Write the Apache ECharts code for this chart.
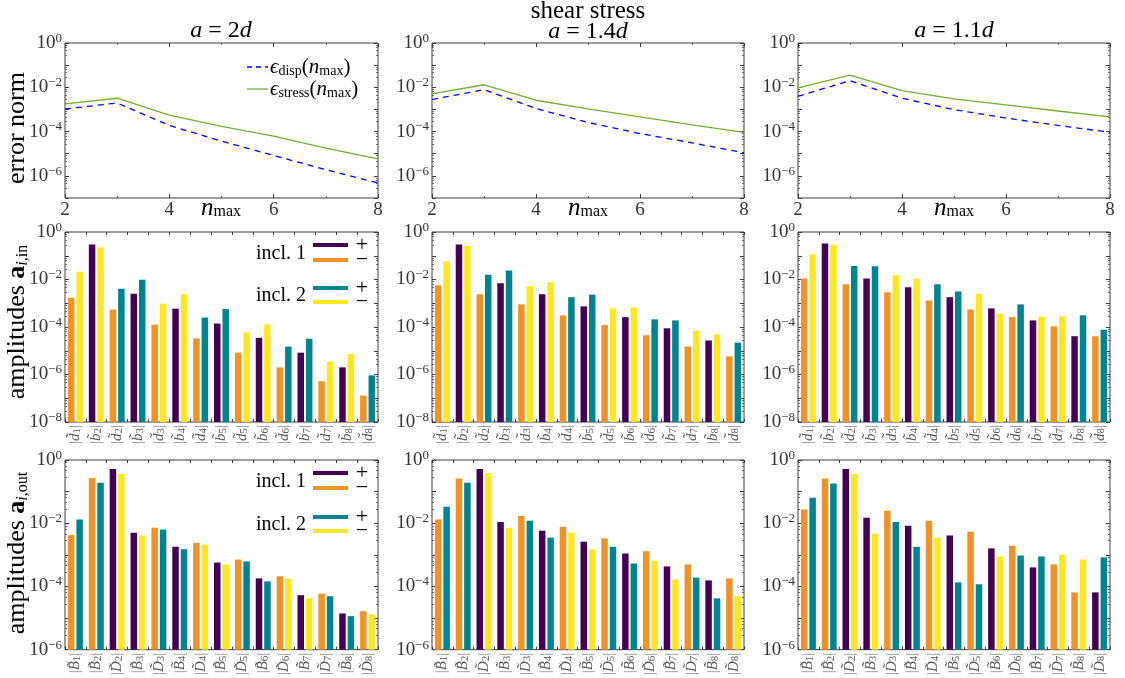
<!DOCTYPE html>
<html><head><meta charset="utf-8">
<script src="https://cdn.jsdelivr.net/npm/echarts@6/dist/echarts.min.js"></script>
<style>html,body{margin:0;padding:0;background:#fff}#c{width:1125px;height:678px}</style>
</head><body><div id="c"></div>
<script>
// ---------------- data ----------------
const nmax = [2, 3, 4, 5, 6, 7, 8];
const dispA20   = [1.05e-3, 1.95e-3, 1.9e-4, 3.7e-5, 8.3e-6, 1.9e-6, 4.8e-7];
const stressA20 = [1.8e-3, 3.2e-3, 5.5e-4, 1.7e-4, 6.2e-5, 1.8e-5, 5.9e-6];
const dispA14   = [2.8e-3, 7.8e-3, 1.1e-3, 2.6e-4, 8.1e-5, 3.1e-5, 1.1e-5];
const stressA14 = [5.0e-3, 1.3e-2, 2.6e-3, 1.05e-3, 4.6e-4, 2.0e-4, 9.3e-5];
const dispA11   = [3.9e-3, 2.0e-2, 3.2e-3, 9.8e-4, 4.1e-4, 1.9e-4, 9.3e-5];
const stressA11 = [9.3e-3, 3.5e-2, 7.0e-3, 3.0e-3, 1.6e-3, 8.5e-4, 4.6e-4];

const catsIn  = ['d1','b2','d2','b3','d3','b4','d4','b5','d5','b6','d6','b7','d7','b8','d8'];
const catsOut = ['B1','B2','D2','B3','D3','B4','D4','B5','D5','B6','D6','B7','D7','B8','D8'];

// kinds: '1+' incl.1 +, '1-' incl.1 −, '2+' incl.2 +, '2-' incl.2 −
const inLeftKind   = ['1-','1+','1-','1+','1-','1+','1-','1+','1-','1+','1-','1+','1-','1+','1-'];
const inRightKind  = ['2-','2-','2+','2+','2-','2-','2+','2+','2-','2-','2+','2+','2-','2-','2+'];
const inRightKindA11 = ['2-','2-','2+','2+','2-','2-','2+','2+','2-','2-','2+','2-','2-','2+','2+'];

const inLeftA20  = [1.7e-3, 0.30, 5.4e-4, 2.5e-3, 1.26e-4, 5.9e-4, 3.3e-5, 1.4e-4, 8.3e-6, 3.5e-5, 2.0e-6, 8.3e-6, 5.2e-7, 2.0e-6, 1.3e-7];
const inRightA20 = [2.1e-2, 0.22, 4.1e-3, 9.8e-3, 9.6e-4, 2.4e-3, 2.5e-4, 5.7e-4, 6.0e-5, 1.3e-4, 1.5e-5, 3.2e-5, 3.5e-6, 7.3e-6, 9.2e-7];
const inLeftA14  = [5.7e-3, 0.30, 2.4e-3, 6.9e-3, 9.0e-4, 2.4e-3, 3.1e-4, 7.4e-4, 1.2e-4, 2.6e-4, 4.5e-5, 8.8e-5, 1.5e-5, 2.7e-5, 5.8e-6];
const inRightA14 = [5.8e-2, 0.26, 1.6e-2, 2.4e-2, 5.3e-3, 7.6e-3, 1.8e-3, 2.3e-3, 6.1e-4, 6.7e-4, 2.1e-4, 1.9e-4, 7.0e-5, 4.9e-5, 2.2e-5];
const inLeftA11  = [1.1e-2, 0.33, 6.3e-3, 1.1e-2, 2.9e-3, 4.7e-3, 1.3e-3, 1.8e-3, 5.5e-4, 6.1e-4, 2.6e-4, 1.9e-4, 1.07e-4, 4.1e-5, 4.1e-5];
const inRightA11 = [0.115, 0.29, 3.7e-2, 3.6e-2, 1.5e-2, 1.1e-2, 6.3e-3, 3.1e-3, 2.5e-3, 3.6e-4, 9.0e-4, 2.7e-4, 2.8e-4, 3.1e-4, 7.7e-5];

const outLeftKind     = ['1-','1-','1+','1+','1-','1+','1-','1+','1-','1+','1-','1+','1-','1+','1-'];
const outRightKind    = ['2+','2+','2-','2-','2+','2+','2-','2-','2+','2+','2-','2-','2+','2+','2-'];
const outLeftKindA11  = ['1-','1-','1+','1+','1-','1+','1-','1+','1-','1+','1-','1+','1-','1-','1+'];
const outRightKindA11 = ['2+','2+','2-','2-','2+','2+','2-','2+','2+','2-','2+','2+','2-','2-','2+'];

const outLeftA20  = [4.2e-3, 0.27, 0.52, 5.0e-3, 7.2e-3, 1.8e-3, 2.4e-3, 5.7e-4, 7.1e-4, 1.8e-4, 2.1e-4, 5.3e-5, 5.9e-5, 1.4e-5, 1.65e-5];
const outRightA20 = [1.3e-2, 0.19, 0.36, 4.1e-3, 6.3e-3, 1.5e-3, 2.1e-3, 5.0e-4, 6.2e-4, 1.45e-4, 1.8e-4, 4.2e-5, 4.9e-5, 1.15e-5, 1.3e-5];
const outLeftA14  = [1.3e-2, 0.26, 0.52, 1.1e-2, 1.7e-2, 5.8e-3, 7.7e-3, 2.6e-3, 3.3e-3, 1.1e-3, 1.3e-3, 4.3e-4, 5.0e-4, 1.55e-4, 1.8e-4];
const outRightA14 = [3.3e-2, 0.19, 0.39, 7.2e-3, 1.2e-2, 3.5e-3, 5.0e-3, 1.5e-3, 1.8e-3, 5.3e-4, 6.6e-4, 1.66e-4, 1.9e-4, 4.2e-5, 4.9e-5];
const outLeftA11  = [2.7e-2, 0.26, 0.52, 1.5e-2, 2.5e-2, 8.3e-3, 1.2e-2, 4.1e-3, 5.4e-3, 1.6e-3, 1.95e-3, 4.0e-4, 5.0e-4, 6.5e-5, 6.5e-5];
const outRightA11 = [6.4e-2, 0.18, 0.36, 4.7e-3, 1.1e-2, 1.8e-3, 3.5e-3, 1.35e-4, 1.17e-4, 8.9e-4, 9.5e-4, 8.9e-4, 1.02e-3, 7.1e-4, 8.3e-4];

const xTicksTop = [2, 4, 6, 8];

// ---------------- styles / layout ----------------
const FONT = 'Liberation Serif';
const KC = {'1+':'#440154','1-':'#ef9227','2+':'#00848f','2-':'#fde725'};
const colBox = [[65,313],[432,312],[798,312]];
const rowBox = [[43,155],[232,190],[460,191]];
const AX = '#3c3c3c';

const grids = [], xAxes = [], yAxes = [], series = [];

const powRich = {
  b: {fontFamily: FONT, fontSize: 19, color: '#333', lineHeight: 22},
  p: {fontFamily: FONT, fontSize: 13, color: '#333', lineHeight: 12, verticalAlign: 'top'}
};
function fmtPow(v){
  const e = Math.round(Math.log10(v));
  if (e % 2 !== 0) return '';
  return '{b|10}{p|' + (e < 0 ? '\u2212' : '') + Math.abs(e) + '}';
}
const catRich = {
  v: {fontFamily: FONT, fontSize: 15, fontStyle: 'italic', color: '#555'},
  s: {fontFamily: FONT, fontSize: 11, color: '#555', verticalAlign: 'bottom', lineHeight: 11}
};
function catFmt(s){ return '|{v|' + s[0] + '\u0303}{s|' + s.slice(1) + '}|'; }

function addGrid(r, c){
  const g = grids.length;
  grids.push({left: colBox[c][0], top: rowBox[r][0], width: colBox[c][1], height: rowBox[r][1],
    show: true, borderColor: AX, borderWidth: 1, containLabel: false});
  return g;
}
function logY(g, min, pos, showLabel){
  return {type: 'log', logBase: 10, gridIndex: g, position: pos, min: min, max: 1, interval: 1,
    startValue: min,
    axisLine: {show: false}, splitLine: {show: false},
    axisTick: {show: true, inside: true, length: 4, lineStyle: {color: AX}},
    minorTick: {show: true, splitNumber: 5, length: 2, lineStyle: {color: '#666'}},
    axisLabel: {show: showLabel, formatter: fmtPow, rich: powRich, margin: 3, color: '#333'}};
}

// top row: line panels
const lineSets = [[dispA20, stressA20], [dispA14, stressA14], [dispA11, stressA11]];
lineSets.forEach((set, c) => {
  const g = addGrid(0, c);
  const xi = xAxes.length;
  xAxes.push({type: 'value', gridIndex: g, position: 'bottom', min: 2, max: 8, interval: 2,
    axisLine: {show: false}, splitLine: {show: false},
    axisTick: {show: true, inside: true, length: 4, lineStyle: {color: AX}},
    minorTick: {show: true, splitNumber: 2, length: 2, lineStyle: {color: '#666'}},
    axisLabel: {fontFamily: FONT, fontSize: 19, color: '#333', margin: 3,
      formatter: v => xTicksTop.includes(v) ? String(v) : ''}});
  xAxes.push({type: 'value', gridIndex: g, position: 'top', min: 2, max: 8, interval: 2,
    axisLine: {show: false}, splitLine: {show: false},
    axisTick: {show: true, inside: true, length: 4, lineStyle: {color: AX}},
    minorTick: {show: true, splitNumber: 2, length: 2, lineStyle: {color: '#666'}},
    axisLabel: {show: false}});
  const yi = yAxes.length;
  yAxes.push(logY(g, 1e-7, 'left', true));
  yAxes.push(logY(g, 1e-7, 'right', false));
  series.push({type: 'line', xAxisIndex: xi, yAxisIndex: yi, symbol: 'none', silent: true,
    data: nmax.map((x, i) => [x, set[0][i]]),
    lineStyle: {color: '#0000ff', width: 1.3, type: [6, 5]}, z: 3});
  series.push({type: 'line', xAxisIndex: xi, yAxisIndex: yi, symbol: 'none', silent: true,
    data: nmax.map((x, i) => [x, set[1][i]]),
    lineStyle: {color: '#77ac30', width: 1.3}, z: 2});
});

// bar panels
function barPanel(r, c, cats, min, lv, lk, rv, rk){
  const g = addGrid(r, c);
  const xi = xAxes.length;
  xAxes.push({type: 'category', gridIndex: g, data: cats, position: 'bottom',
    axisLine: {show: false}, splitLine: {show: false},
    axisTick: {show: true, inside: true, length: 3, lineStyle: {color: AX}},
    axisLabel: {interval: 0, rotate: 90, formatter: catFmt, rich: catRich, margin: 3,
      fontFamily: FONT, fontSize: 15, color: '#888'}});
  xAxes.push({type: 'category', gridIndex: g, data: cats, position: 'top',
    axisLine: {show: false}, splitLine: {show: false},
    axisTick: {show: true, inside: true, length: 3, lineStyle: {color: AX}},
    axisLabel: {show: false}});
  const yi = yAxes.length;
  yAxes.push(logY(g, min, 'left', true));
  yAxes.push(logY(g, min, 'right', false));
  series.push({type: 'bar', xAxisIndex: xi, yAxisIndex: yi, silent: true, barWidth: 6.5, barGap: '30%',
    data: lv.map((v, i) => ({value: v, itemStyle: {color: KC[lk[i]]}}))});
  series.push({type: 'bar', xAxisIndex: xi, yAxisIndex: yi, silent: true, barWidth: 6.5, barGap: '30%',
    data: rv.map((v, i) => ({value: v, itemStyle: {color: KC[rk[i]]}}))});
}
barPanel(1, 0, catsIn, 1e-8, inLeftA20, inLeftKind, inRightA20, inRightKind);
barPanel(1, 1, catsIn, 1e-8, inLeftA14, inLeftKind, inRightA14, inRightKind);
barPanel(1, 2, catsIn, 1e-8, inLeftA11, inLeftKind, inRightA11, inRightKindA11);
barPanel(2, 0, catsOut, 1e-6, outLeftA20, outLeftKind, outRightA20, outRightKind);
barPanel(2, 1, catsOut, 1e-6, outLeftA14, outLeftKind, outRightA14, outRightKind);
barPanel(2, 2, catsOut, 1e-6, outLeftA11, outLeftKindA11, outRightA11, outRightKindA11);

// ---------------- text / legends (graphic) ----------------
const G = [];
function txt(x, y, text, size, rich, extra){
  G.push(Object.assign({type: 'text', x: x, y: y, silent: true,
    style: Object.assign({text: text, fontFamily: FONT, fontSize: size, fill: '#000',
      align: 'center', verticalAlign: 'middle', rich: rich || {}}, extra && extra.style || {})},
    extra && extra.el || {}));
}
const itRich = s => ({i: {fontFamily: FONT, fontSize: s, fontStyle: 'italic', fill: '#000'},
                      n: {fontFamily: FONT, fontSize: s, fill: '#000'}});
txt(221, 31, '{i|a}{n| = 2}{i|d}', 24, itRich(24));
txt(588, 11, 'shear stress', 25);
txt(588, 32, '{i|a}{n| = 1.4}{i|d}', 24, itRich(24));
txt(954, 31, '{i|a}{n| = 1.1}{i|d}', 24, itRich(24));

const nRich = {
  i: {fontFamily: FONT, fontSize: 25, fontStyle: 'italic', fill: '#000', lineHeight: 24},
  s: {fontFamily: FONT, fontSize: 16, fill: '#000', verticalAlign: 'bottom', lineHeight: 15}
};
[221, 588, 954].forEach(cx => txt(cx, 208, '{i|n}{s|max}', 25, nRich));

const subRich = {
  n: {fontFamily: FONT, fontSize: 26, fill: '#000', lineHeight: 28},
  b: {fontFamily: FONT, fontSize: 26, fontWeight: 'bold', fill: '#000', lineHeight: 28},
  si: {fontFamily: FONT, fontSize: 16, fontStyle: 'italic', fill: '#000', verticalAlign: 'bottom', lineHeight: 16},
  s: {fontFamily: FONT, fontSize: 16, fill: '#000', verticalAlign: 'bottom', lineHeight: 16}
};
txt(17, 128, '{n|error norm}', 26, subRich, {el: {rotation: Math.PI / 2}});
txt(17, 322, '{n|amplitudes }{b|a}{si|i}{s|,in}', 26, subRich, {el: {rotation: Math.PI / 2}});
txt(17, 553, '{n|amplitudes }{b|a}{si|i}{s|,out}', 26, subRich, {el: {rotation: Math.PI / 2}});

// line legend
G.push({type: 'line', silent: true, shape: {x1: 247, y1: 67, x2: 268, y2: 67},
  style: {stroke: '#0000ff', lineWidth: 1.3, lineDash: [5, 4]}});
G.push({type: 'line', silent: true, shape: {x1: 247, y1: 89, x2: 268, y2: 89},
  style: {stroke: '#77ac30', lineWidth: 1.3}});
const epsRich = {
  e: {fontFamily: FONT, fontSize: 21, fontStyle: 'italic', fill: '#000', lineHeight: 22},
  n: {fontFamily: FONT, fontSize: 21, fill: '#000', lineHeight: 22},
  s: {fontFamily: FONT, fontSize: 14, fill: '#000', verticalAlign: 'bottom', lineHeight: 13}
};
txt(270, 67, '{e|\u03f5}{s|disp}{n|(}{e|n}{s|max}{n|)}', 21, epsRich, {style: {align: 'left'}});
txt(270, 89, '{e|\u03f5}{s|stress}{n|(}{e|n}{s|max}{n|)}', 21, epsRich, {style: {align: 'left'}});

// bar legends
function barLegend(y1, y2, y3, y4){
  const rows = [[y1, '1+'], [y2, '1-'], [y3, '2+'], [y4, '2-']];
  rows.forEach(([y, k]) => {
    G.push({type: 'rect', silent: true, shape: {x: 313, y: y - 2, width: 35, height: 4}, style: {fill: KC[k]}});
    txt(362, y, k[1] === '+' ? '+' : '\u2212', 22);
  });
  txt(306, (y1 + y2) / 2 + 1, 'incl. 1', 20, null, {style: {align: 'right'}});
  txt(306, (y3 + y4) / 2 + 1, 'incl. 2', 20, null, {style: {align: 'right'}});
}
barLegend(245, 260, 288, 302);
barLegend(473, 488, 517, 531);

const chart = echarts.init(document.getElementById('c'), null, {renderer: 'canvas'});
chart.setOption({
  animation: false,
  backgroundColor: '#fff',
  textStyle: {fontFamily: FONT},
  grid: grids, xAxis: xAxes, yAxis: yAxes, series: series, graphic: G
});
</script></body></html>
